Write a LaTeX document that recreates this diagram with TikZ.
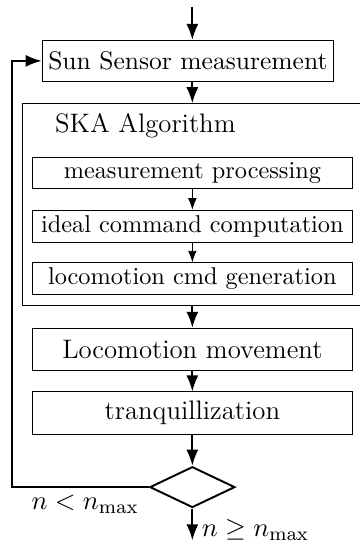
\documentclass[tikz,border=0pt]{standalone}
\usetikzlibrary{arrows.meta,shapes.geometric}
\begin{document}
\begin{tikzpicture}[
    box/.style={draw,minimum width=46.3mm,minimum height=6.1mm,inner sep=0pt,
      font=\fontsize{11}{13}\selectfont},
    subbox/.style={draw,minimum width=46.3mm,minimum height=4.6mm,inner sep=0pt},
    flow/.style={-{Latex},thick},
    subflow/.style={-{Latex}},
  ]
    \useasboundingbox (-27.8mm,0) rectangle (24.1mm,-79.2mm);

    \coordinate (in) at (0,-1mm);
    \coordinate (loop) at (-26mm,0);
    \coordinate (out) at (0,-78.1mm);

    \node[box,minimum width=42.1mm,minimum height=5.9mm,font=\fontsize{10.5}{12}\selectfont] (sun) at (-0.65mm,-8.8mm) {Sun Sensor measurement};

    % SKA frame, its right side runs off the page
    \node[draw,minimum width=50.6mm,minimum height=29.1mm,inner sep=0pt] (ska) at (0.7mm,-29.55mm) {};
    \node[anchor=west,inner sep=0pt,font=\fontsize{11}{13}\selectfont] (skatitle) at (-19.9mm,-18.1mm) {SKA Algorithm};

    \node[subbox] (meas) at (0,-25mm) {measurement processing};
    \node[subbox] (ideal) at (0,-32.7mm) {ideal command computation};
    \node[subbox] (cmd) at (0,-40.3mm) {locomotion cmd generation};

    \node[box] (loco) at (0,-50.5mm) {Locomotion movement};
    \node[box] (tranq) at (0,-59.7mm) {tranquillization};

    \node[diamond,draw,thick,minimum width=12.3mm,minimum height=5.9mm,inner sep=0pt] (test) at (0,-70.4mm) {};

    \draw[flow] (in) -- (in |- sun.north);
    \draw[flow] (in |- sun.south) -- (in |- ska.north);
    \draw[subflow] (meas) -- (ideal);
    \draw[subflow] (ideal) -- (cmd);
    \draw[flow] (in |- ska.south) -- (loco);
    \draw[flow] (loco) -- (tranq);
    \draw[flow] (tranq) -- (test);
    \draw[flow] (test) -- (out);
    \draw[flow] (test.west) -- (test.west -| loop) |- (sun.west);

    \node[font=\fontsize{11}{13}\selectfont] (less) at (-15.5mm,-72.9mm) {$n<n_{\max}$};
    \node[anchor=west,inner sep=0pt,font=\fontsize{11}{13}\selectfont] (geq) at (1.3mm,-76.6mm) {$n\geq n_{\max}$};
\end{tikzpicture}
\end{document}
